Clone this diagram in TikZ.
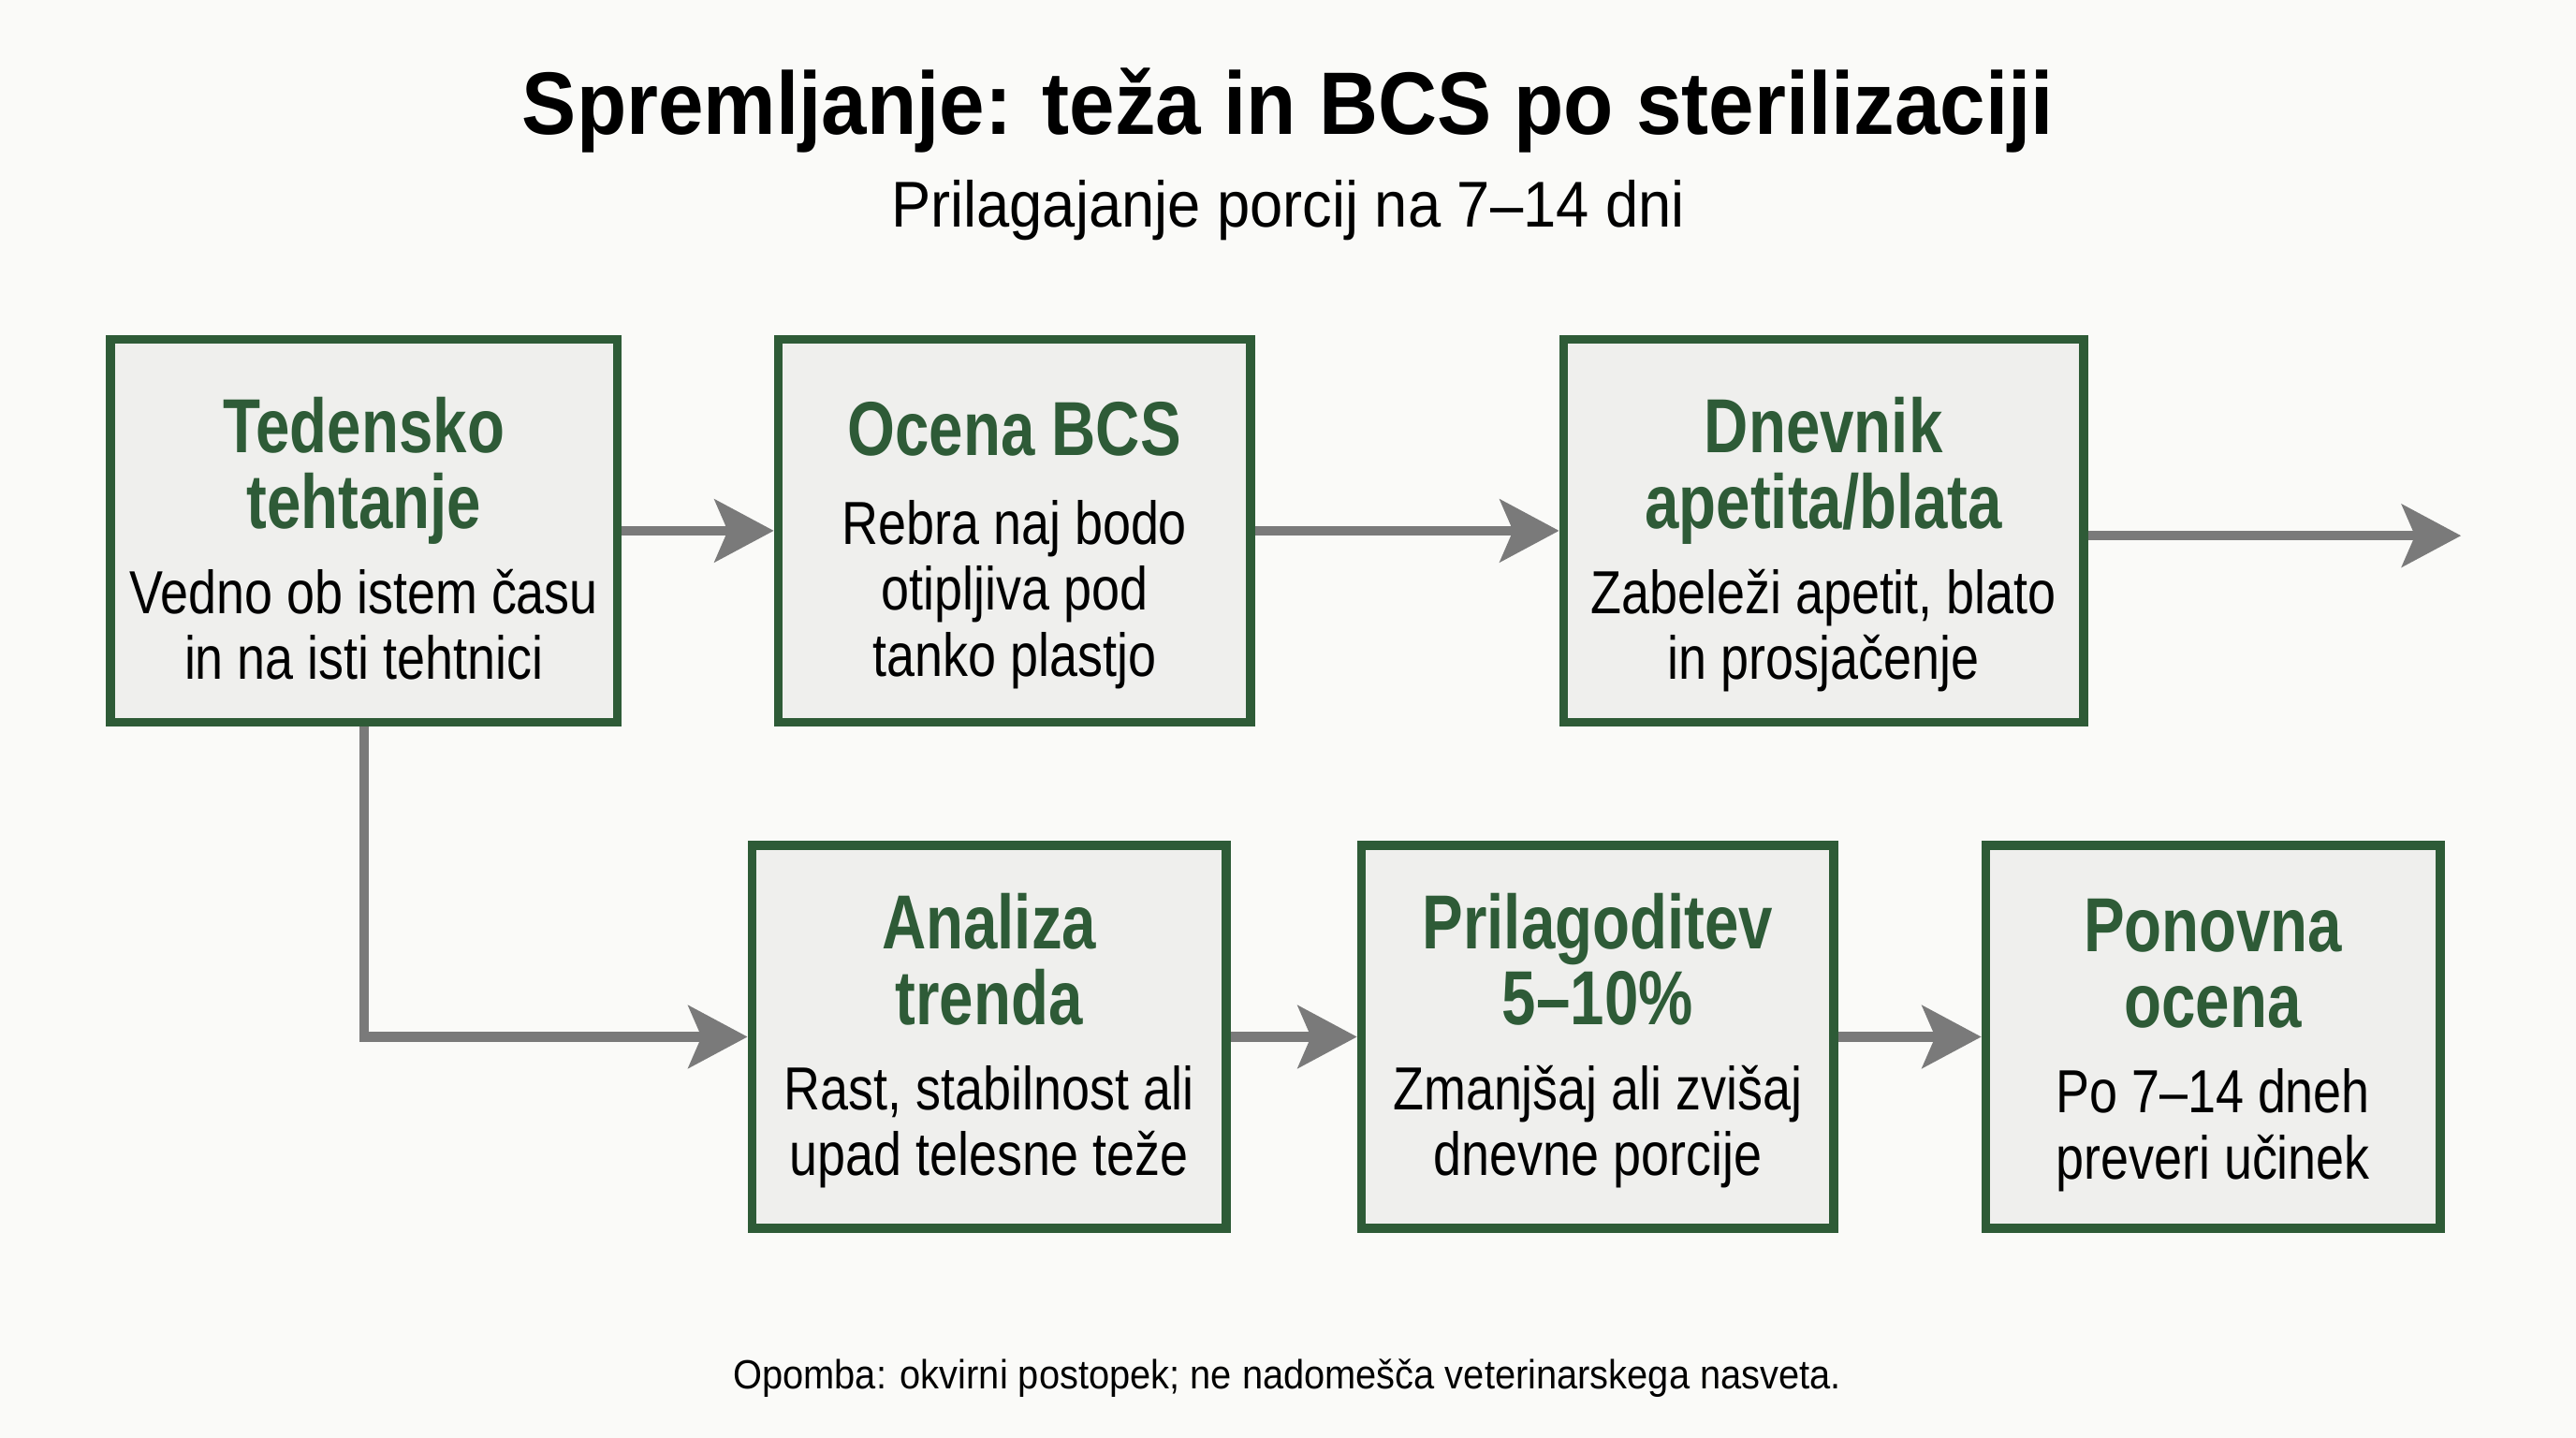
\documentclass[tikz,border=0pt]{standalone}
\usepackage{fontspec}
\usepackage{tikz}
\usepackage{color}
\usetikzlibrary{arrows.meta}
\setmainfont{Liberation Sans}
\newfontfamily\headfont[FakeStretch=0.92]{Liberation Sans}
\newfontfamily\subfont[FakeStretch=0.915]{Liberation Sans}
\newfontfamily\ttlfont[FakeStretch=0.80]{Liberation Sans}
\newfontfamily\bdyfont[FakeStretch=0.83]{Liberation Sans}
\definecolor{paper}{HTML}{FAFAF8}
\definecolor{boxfill}{HTML}{EFEFED}
\definecolor{boxgreen}{HTML}{2E5B37}
\definecolor{arrowgray}{HTML}{7A7A7A}
\newcommand{\ttl}{\ttlfont\bfseries\fontsize{23.3}{20}\selectfont\color{boxgreen}}
\newcommand{\bdy}{\bdyfont\fontsize{18.5}{20}\selectfont\lineskiplimit-50pt\relax}

\begin{document}
\begin{tikzpicture}[x=0.5pt,y=-0.5pt]
						\tikzstyle{every node}+=[inner sep=0pt]
						\tikzstyle{box}=[draw=boxgreen, fill=boxfill, line width=2.75pt, minimum height=116.5pt]
						\tikzstyle{boxtext}=[align=center, anchor=north, font=\bdy]
						\tikzstyle{flow}=[draw=arrowgray, line width=2.85pt, -{Stealth[length=18pt,width=19pt,inset=4pt]}]
						\fill [paper] (0,0) rectangle (1568,875);
						\useasboundingbox (0,0) rectangle (1568,875);
						% naslov
						\node [anchor=base, font=\headfont\bfseries\fontsize{27}{32}\selectfont] (title) at (784,81.5) {Spremljanje: teža in BCS po sterilizaciji};
						\node [anchor=base, font=\subfont\fontsize{19.7}{24}\selectfont] (subtitle) at (784,138.3) {Prilagajanje porcij na 7–14 dni};
						% zgornja vrsta
						\node [box, minimum width=154.25pt] (tehtanje) at (221.5,323) {};
						\node [boxtext] (tehtanje-t) at (221.5,239) {\rule{0pt}{18pt}{\ttl Tedensko}\\[3pt]{\ttl tehtanje}\\[6pt]Vedno ob istem času\\in na isti tehtnici};
						\node [box, minimum width=143.75pt] (bcs) at (617.5,323) {};
						\node [boxtext] (bcs-t) at (617.5,241) {\rule{0pt}{18pt}{\ttl Ocena BCS}\\[7pt]Rebra naj bodo\\otipljiva pod\\tanko plastjo};
						\node [box, minimum width=158.25pt] (dnevnik) at (1110,323) {};
						\node [boxtext] (dnevnik-t) at (1110,239) {\rule{0pt}{18pt}{\ttl Dnevnik}\\[3pt]{\ttl apetita/blata}\\[6pt]Zabeleži apetit, blato\\in prosjačenje};
						\coordinate (out) at (1498,326);
						% spodnja vrsta
						\node [box, minimum width=144.25pt] (trend) at (602,631) {};
						\node [boxtext] (trend-t) at (602,541) {\rule{0pt}{18pt}{\ttl Analiza}\\[3pt]{\ttl trenda}\\[6pt]Rast, stabilnost ali\\upad telesne teže};
						\node [box, minimum width=143.75pt] (prilagoditev) at (972.5,631) {};
						\node [boxtext] (prilagoditev-t) at (972.5,541) {\rule{0pt}{18pt}{\ttl Prilagoditev}\\[3pt]{\ttl 5–10\%}\\[6pt]Zmanjšaj ali zvišaj\\dnevne porcije};
						\node [box, minimum width=138.25pt] (ponovna) at (1347,631) {};
						\node [boxtext] (ponovna-t) at (1347,543) {\rule{0pt}{18pt}{\ttl Ponovna}\\[3pt]{\ttl ocena}\\[6pt]Po 7–14 dneh\\preveri učinek};
						% puščice
						\draw [flow] (tehtanje) -- (bcs);
						\draw [flow] (bcs) -- (dnevnik);
						\draw [flow] (dnevnik.east |- out) -- (out);
						\draw [flow] (tehtanje.south) |- (trend.west);
						\draw [flow] (trend) -- (prilagoditev);
						\draw [flow] (prilagoditev) -- (ponovna);
						\node [anchor=base, font=\subfont\fontsize{12.4}{15}\selectfont] (note) at (783.5,845) {Opomba: okvirni postopek; ne nadomešča veterinarskega nasveta.};
					\end{tikzpicture}
\end{document}
